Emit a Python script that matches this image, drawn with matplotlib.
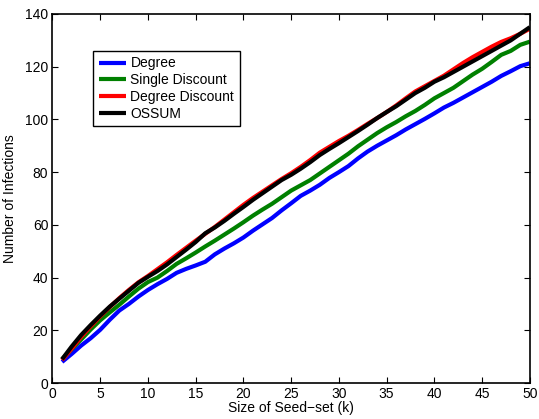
import matplotlib
matplotlib.use("Agg")
import matplotlib.pyplot as plt
import numpy as np

plt.rcParams['font.family'] = ['Liberation Sans', 'DejaVu Sans']

k = list(range(1, 51))

degree = [8.0, 11.0, 14.2, 17.0, 20.2, 24.0, 27.5, 30.0, 32.8, 35.3,
          37.5, 39.5, 41.8, 43.3, 44.6, 46.0, 48.8, 51.0, 53.0, 55.2,
          57.8, 60.2, 62.6, 65.5, 68.2, 71.0, 73.0, 75.2, 77.8, 80.0,
          82.3, 85.2, 87.8, 90.0, 92.0, 94.0, 96.2, 98.2, 100.2, 102.3,
          104.5, 106.3, 108.3, 110.3, 112.3, 114.3, 116.5, 118.3, 120.2, 121.3]

single_discount = [9.0, 12.8, 16.5, 20.3, 23.8, 26.8, 29.7, 32.8, 35.8, 38.3,
                   40.0, 42.5, 45.2, 47.3, 49.5, 51.8, 54.0, 56.3, 58.6, 61.0,
                   63.5, 65.8, 68.0, 70.5, 73.0, 75.0, 77.0, 79.5, 82.0, 84.5,
                   87.0, 89.8, 92.3, 94.8, 97.0, 99.0, 101.2, 103.2, 105.5, 108.0,
                   110.0, 112.0, 114.5, 117.0, 119.2, 121.8, 124.5, 126.0, 128.3, 129.5]

degree_discount = [8.7, 13.0, 17.5, 21.5, 25.3, 28.8, 32.2, 35.3, 38.2, 40.6,
                   43.2, 45.8, 48.6, 51.3, 54.0, 56.6, 59.2, 62.0, 64.8, 67.6,
                   70.2, 72.6, 75.0, 77.4, 79.6, 82.0, 84.6, 87.4, 89.6, 91.8,
                   93.8, 96.0, 98.3, 100.5, 102.8, 105.3, 108.0, 110.6, 112.6, 114.6,
                   116.6, 119.0, 121.4, 123.6, 125.6, 127.6, 129.4, 130.8, 132.5, 134.4]

ossum = [9.0, 13.8, 18.2, 22.0, 25.6, 29.0, 32.0, 35.0, 38.0, 40.3,
         42.5, 45.0, 47.8, 50.6, 53.5, 56.8, 59.0, 61.5, 64.2, 66.8,
         69.5, 72.0, 74.5, 77.0, 79.0, 81.3, 83.8, 86.5, 88.8, 91.0,
         93.3, 95.6, 98.0, 100.5, 102.8, 105.0, 107.5, 110.0, 112.0, 114.3,
         116.0, 118.0, 120.0, 122.0, 124.0, 126.0, 128.0, 130.0, 132.5, 135.0]

labels = ['Degree', 'Single Discount', 'Degree Discount', 'OSSUM']
colors = ['#0000ff', '#008000', '#ff0000', '#000000']
series = [degree, single_discount, degree_discount, ossum]

x_ticks = [0, 5, 10, 15, 20, 25, 30, 35, 40, 45, 50]
y_ticks = [0, 20, 40, 60, 80, 100, 120, 140]

fig = plt.figure(figsize=(5.39, 4.19), dpi=100)
ax = fig.add_axes([0.0974, 0.0859, 0.8856, 0.8807])

for s, c, l in zip(series, colors, labels):
    ax.plot(k, s, color=c, lw=3, label=l, solid_capstyle='butt')

ax.set_xlim(0, 50)
ax.set_ylim(0, 140)
ax.set_xticks(x_ticks)
ax.set_yticks(y_ticks)
ax.tick_params(direction='in', top=True, right=True, length=4, width=0.8,
               labelsize=10, pad=3)
for sp in ax.spines.values():
    sp.set_linewidth(1.2)

ax.set_xlabel('Size of Seed\u2212set (k)', fontsize=10, labelpad=0)
ax.set_ylabel('Number of Infections', fontsize=10, labelpad=6)

leg = ax.legend(loc='upper left', bbox_to_anchor=(0.0848, 0.9), borderaxespad=0,
                fontsize=10, fancybox=False, edgecolor='black', framealpha=1,
                handlelength=2.0, handletextpad=0.3, labelspacing=0.2,
                borderpad=0.4)
leg.get_frame().set_linewidth(1.0)

fig.savefig('out.png', dpi=100)
